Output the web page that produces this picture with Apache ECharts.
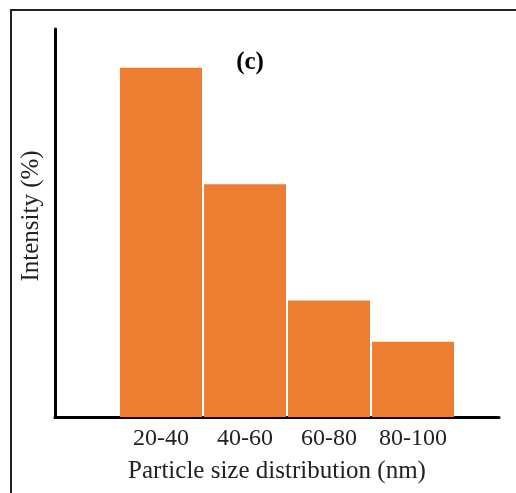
<!DOCTYPE html>
<html>
<head>
<meta charset="utf-8">
<script src="https://cdn.jsdelivr.net/npm/echarts@6/dist/echarts.min.js"></script>
<style>html,body{margin:0;padding:0;background:#fff}#c{width:516px;height:493px}</style>
</head>
<body>
<div id="c"></div>
<script>
var categories = ['20-40', '40-60', '60-80', '80-100'];
var intensity = [45, 30, 15, 9.7];
var yMax = 50;

var FONT = '"Liberation Serif", "Times New Roman", serif';
var chart = echarts.init(document.getElementById('c'), null, {renderer: 'canvas'});
chart.setOption({
  backgroundColor: '#fff',
  animation: false,
  title: {
    text: '(c)', left: 245, top: 45, textAlign: 'center',
    textStyle: {fontFamily: FONT, fontWeight: 'bold', fontSize: 25, color: '#000'}
  },
  graphic: [{
    type: 'rect', shape: {x: 11, y: 10, width: 700, height: 700},
    style: {fill: 'none', stroke: '#222', lineWidth: 2}, silent: true
  }],
  grid: [
    {left: 55, right: 17, top: 29, bottom: 76},
    {left: 119, right: 61, top: 29, bottom: 76}
  ],
  xAxis: [
    {gridIndex: 0, type: 'value', min: 0, max: 1,
     axisLine: {show: true, onZero: false, lineStyle: {color: '#000', width: 3}},
     axisTick: {show: false}, axisLabel: {show: false}, splitLine: {show: false},
     name: 'Particle size distribution (nm)', nameLocation: 'middle', nameGap: 42,
     nameTextStyle: {fontFamily: FONT, fontSize: 25, color: '#222'}
    },
    {gridIndex: 1, type: 'category', data: categories,
     axisLine: {show: false}, axisTick: {show: false},
     axisLabel: {fontFamily: FONT, fontSize: 24, color: '#222', margin: 10, interval: 0}
    }
  ],
  yAxis: [
    {gridIndex: 0, type: 'value', min: 0, max: yMax,
     axisLine: {show: true, onZero: false, lineStyle: {color: '#000', width: 3}},
     axisTick: {show: false}, axisLabel: {show: false}, splitLine: {show: false},
     name: 'Intensity (%)', nameLocation: 'middle', nameGap: 11,
     nameTextStyle: {fontFamily: FONT, fontSize: 25, color: '#222', padding: [0, 0, 0, 14]}
    },
    {gridIndex: 1, type: 'value', min: 0, max: yMax, show: false}
  ],
  series: [{
    type: 'bar', xAxisIndex: 1, yAxisIndex: 1, data: intensity,
    barWidth: 82,
    itemStyle: {color: '#ED7D31'}
  }]
});
</script>
</body>
</html>
